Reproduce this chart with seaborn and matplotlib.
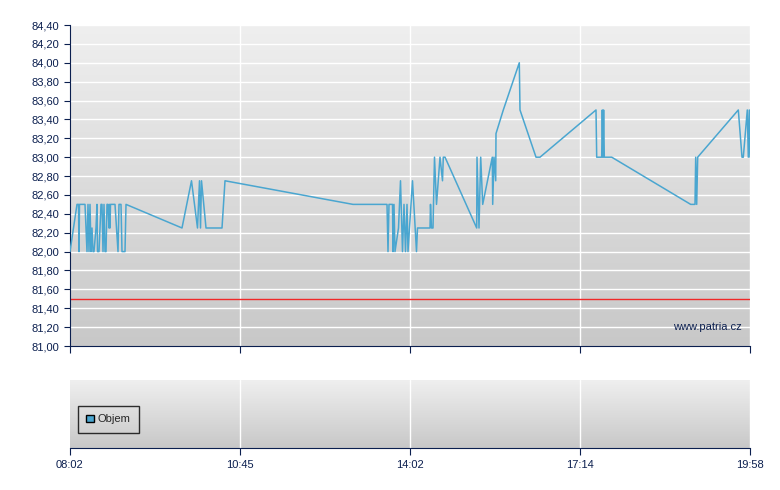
import numpy as np
import pandas as pd
import matplotlib
matplotlib.use('Agg')
import matplotlib.pyplot as plt
from matplotlib.colors import LinearSegmentedColormap
from matplotlib.patches import Patch
import seaborn as sns

# Trade position along the session axis (0 = 08:02, 680 = 19:58) and price
trade_pos = [
    0, 7, 8.5, 9, 9.5, 15, 17, 18, 19, 20,
    21, 22, 23, 24, 26, 27, 27.5, 29, 31, 32,
    33, 34, 35, 36, 37, 38, 39, 39.5, 40, 40.5,
    43, 45, 48, 49, 51, 52, 55, 56,
    112, 121.5, 127.5, 129.5, 130.5, 131.5, 136, 152, 155, 283,
    317, 318, 319, 322.5, 323, 324, 325, 328.5, 330.5, 332.5,
    334, 335.5, 337, 338, 342.5, 346.5, 347.5, 360, 360.5, 361.5,
    363, 364.5, 366.5, 370, 372.5, 373.3, 375,
    406.7, 407, 409, 410.7, 411.7, 412.7, 422.3, 422.7, 424, 425.7,
    426, 433.3, 449.3, 450, 466, 470,
    526, 526.7, 531.7, 532.3, 533, 533.6, 534.3, 541.7, 620.7, 625,
    625.7, 626.7, 627.7, 668.3, 672, 673.3, 677.3, 678.3, 679.3, 680,
]
price = [
    82.00, 82.50, 82.50, 82.00, 82.50, 82.50, 82.00, 82.50, 82.00, 82.50,
    82.00, 82.25, 82.00, 82.00, 82.25, 82.50, 82.00, 82.00, 82.50, 82.50,
    82.00, 82.50, 82.00, 82.00, 82.50, 82.50, 82.25, 82.50, 82.25, 82.50,
    82.50, 82.50, 82.00, 82.50, 82.50, 82.00, 82.00, 82.50,
    82.25, 82.75, 82.25, 82.75, 82.25, 82.75, 82.25, 82.25, 82.75, 82.50,
    82.50, 82.00, 82.50, 82.50, 82.00, 82.50, 82.00, 82.25, 82.75, 82.00,
    82.50, 82.00, 82.50, 82.00, 82.75, 82.00, 82.25, 82.25, 82.50, 82.25,
    82.25, 83.00, 82.50, 83.00, 82.75, 83.00, 83.00,
    82.25, 83.00, 82.25, 83.00, 82.75, 82.50, 83.00, 82.50, 83.00, 82.75,
    83.25, 83.50, 84.00, 83.50, 83.00, 83.00,
    83.50, 83.00, 83.00, 83.50, 83.00, 83.50, 83.00, 83.00, 82.50, 82.50,
    83.00, 82.50, 83.00, 83.50, 83.00, 83.00, 83.50, 83.00, 83.50, 83.00,
]
ref_price = 81.50
tick_pos = [0, 170, 340, 510, 680]
tick_labels = ['08:02', '10:45', '14:02', '17:14', '19:58']
y_ticks = [round(81.0 + 0.2 * i, 2) for i in range(18)]

df = pd.DataFrame({'pos': trade_pos, 'price': price})

navy = '#0b1f4f'
line_col = '#4aa6d0'

sns.set_style('white')
plt.rcParams['font.family'] = ['Liberation Sans', 'DejaVu Sans']

fig = plt.figure(figsize=(7.8, 4.9), dpi=100)
ax = fig.add_axes([70 / 780, 1 - 346 / 490, 680 / 780, 321 / 490])
ax2 = fig.add_axes([70 / 780, 1 - 448 / 490, 680 / 780, 68 / 490])

# grey gradient background + vertical grid
bg = LinearSegmentedColormap.from_list('bg', ['#c8c8c8', '#efefef'])
grad = np.linspace(0, 1, 256).reshape(-1, 1)
for a in (ax, ax2):
    a.imshow(grad, aspect='auto', cmap=bg, origin='lower',
             extent=[0, 1, 0, 1], transform=a.transAxes, zorder=0)
    a.set_xlim(0, 680)
    a.set_xticks(tick_pos)
    for x in tick_pos[1:]:
        a.axvline(x, color='white', lw=1, zorder=1)
    for s in ['top', 'right']:
        a.spines[s].set_visible(False)

# price panel
for yv in y_ticks[1:]:
    ax.axhline(yv, color='white', lw=1, zorder=1)
ax.axhline(ref_price, color='#f02828', lw=1, zorder=2)
sns.lineplot(data=df, x='pos', y='price', sort=False, estimator=None,
             color=line_col, lw=1.1, ax=ax, zorder=3)
ax.set_xlim(0, 680)
ax.set_ylim(81.0, 84.4)
ax.set_yticks(y_ticks)
ax.set_yticklabels([f'{v:.2f}'.replace('.', ',') for v in y_ticks])
ax.set_xticklabels([])
ax.set_xlabel('')
ax.set_ylabel('')
ax.spines['left'].set_color(navy)
ax.spines['bottom'].set_color(navy)
ax.tick_params(axis='y', colors=navy, labelsize=8, length=4, direction='out', left=True)
ax.tick_params(axis='x', colors=navy, length=5, direction='out', bottom=True)
ax.text(672, 81.15, 'www.patria.cz', color=navy, fontsize=8, ha='right', va='bottom')

# volume panel (empty)
ax2.set_ylim(0, 1)
ax2.set_yticks([])
ax2.spines['left'].set_visible(False)
ax2.spines['bottom'].set_color(navy)
ax2.set_xticklabels(tick_labels)
ax2.tick_params(axis='x', colors=navy, labelsize=8, length=5, direction='out', bottom=True)
leg = ax2.legend(handles=[Patch(facecolor=line_col, edgecolor='black', label='Objem')],
                 loc='center left', bbox_to_anchor=(0.003, 0.42), fontsize=8,
                 frameon=True, fancybox=False, handlelength=0.7, handleheight=0.7,
                 handletextpad=0.3, borderpad=0.8)
leg.get_frame().set_edgecolor('black')
leg.get_frame().set_facecolor('none')

fig.savefig('out.png', dpi=100)
